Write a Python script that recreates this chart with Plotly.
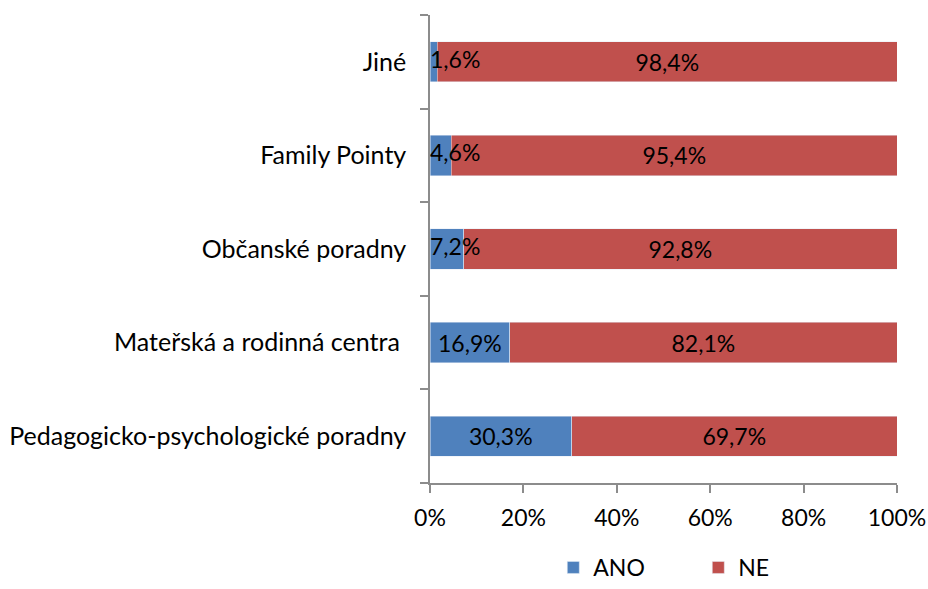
import plotly.graph_objects as go

# categories bottom -> top
categories = [
    "Pedagogicko-psychologické poradny",
    "Mateřská a rodinná centra ",
    "Občanské poradny",
    "Family Pointy",
    "Jiné",
]
ano = [30.3, 16.9, 7.2, 4.6, 1.6]
ne = [69.7, 82.1, 92.8, 95.4, 98.4]
x_ticks = [0, 20, 40, 60, 80, 100]
x_tick_labels = ["0%", "20%", "40%", "60%", "80%", "100%"]

BLUE = "#4F81BD"
RED = "#C0504D"
AXIS = "#8C8C8C"
FONT = "Lato"
FS = 23      # data labels, x ticks, legend
FS_CAT = 25  # category labels

def fmt(v):
    return f"{v:.1f}%".replace(".", ",")

# small ANO labels sit next to the axis, like Excel does
ano_text = [fmt(v) if v >= 10 else "" for v in ano]
small_idx = [i for i, v in enumerate(ano) if v < 10]

fig = go.Figure()
fig.add_trace(go.Bar(
    y=categories, x=ano, name="ANO", orientation="h",
    marker=dict(color=BLUE),
    text=ano_text, textposition="inside", insidetextanchor="middle",
    textfont=dict(color="black", size=FS, family=FONT),
    constraintext="none",
))
fig.add_trace(go.Bar(
    y=categories, x=ne, name="NE", orientation="h",
    marker=dict(color=RED),
    text=[fmt(v) for v in ne], textposition="inside", insidetextanchor="middle",
    textfont=dict(color="black", size=FS, family=FONT),
    constraintext="none",
))
fig.add_trace(go.Scatter(
    y=[categories[i] for i in small_idx], x=[0] * len(small_idx),
    mode="text", text=[fmt(ano[i]) for i in small_idx],
    textposition="middle right",
    textfont=dict(color="black", size=FS, family=FONT),
    showlegend=False, hoverinfo="skip", cliponaxis=False,
))

fig.update_layout(
    barmode="stack",
    barnorm="percent",
    bargap=0.57,
    width=928, height=589,
    margin=dict(l=430, r=31, t=15, b=106, autoexpand=False),
    plot_bgcolor="white", paper_bgcolor="white",
    font=dict(family=FONT, size=FS, color="black"),
    showlegend=True,
    legend=dict(
        orientation="h", x=0.264, xanchor="left", y=-0.2265, yanchor="bottom",
        font=dict(size=FS), entrywidth=100, itemwidth=30,
        traceorder="normal",
    ),
)
fig.update_xaxes(
    range=[0, 100], tickvals=x_ticks, ticktext=x_tick_labels,
    showgrid=False, zeroline=False, automargin=False,
    showline=True, linecolor=AXIS, linewidth=1.5,
    ticks="outside", ticklen=8, tickcolor=AXIS, tickwidth=1.5,
    tickfont=dict(size=FS), fixedrange=True, ticklabelstandoff=6,
    ticklabeloverflow="allow",
)
fig.update_yaxes(
    type="category", categoryorder="array", categoryarray=categories,
    showgrid=False, showline=True, linecolor=AXIS, linewidth=1.5,
    ticks="outside", ticklen=8, tickcolor=AXIS, tickwidth=1.5,
    tickson="boundaries", ticklabelstandoff=17, automargin=False,
    tickfont=dict(size=FS_CAT),
)

# drop the default 8px page margin so the figure fills the window exactly
fig.write_html(
    "out.html",
    config={"displayModeBar": False},
    post_script="document.body.style.margin='0';",
)
